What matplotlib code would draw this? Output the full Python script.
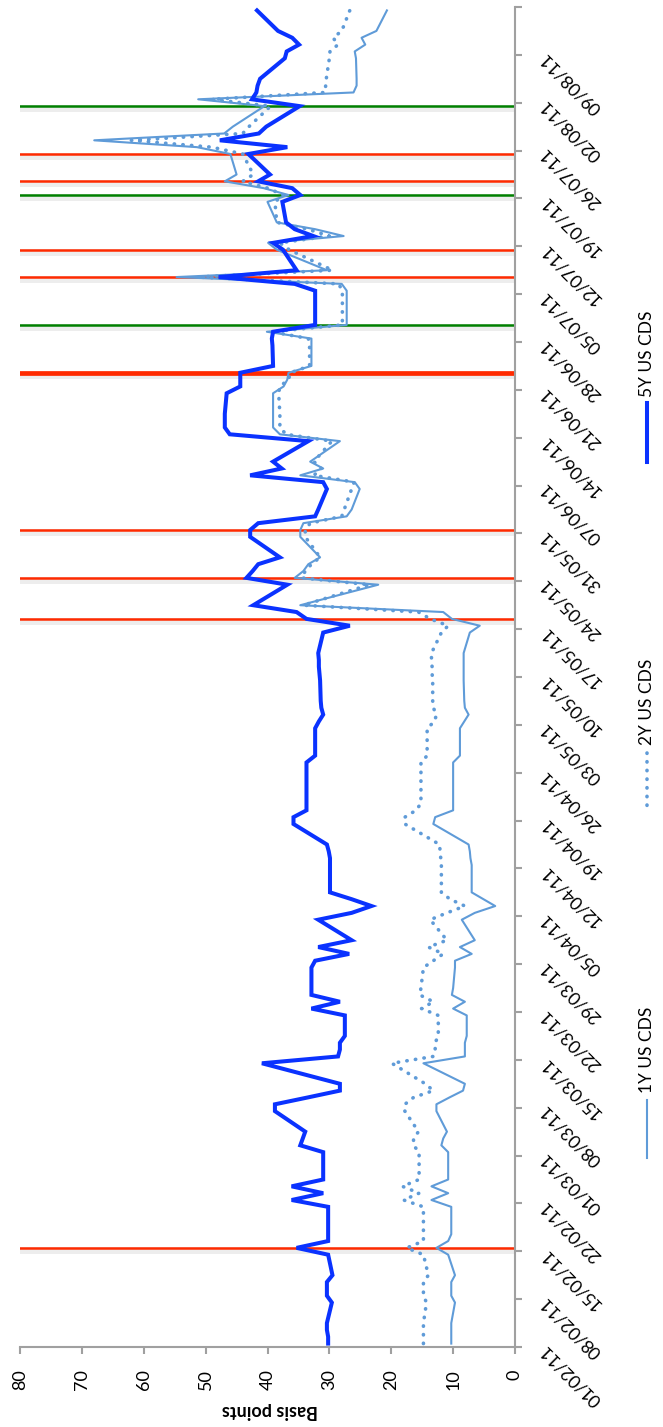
import matplotlib
matplotlib.use("Agg")
import matplotlib.pyplot as plt
import matplotlib.patheffects as pe
from matplotlib.lines import Line2D
import pandas as pd

plt.rcParams['font.family'] = ['Lato', 'DejaVu Sans']

# business days 01/02/11 .. 15/08/11, five per row (Tue..Mon)
dates = pd.bdate_range('2011-02-01', '2011-08-15')

cds_5y = [
    30.2, 30.2, 30.4, 30.4, 29.6,
    30.4, 30.4, 30.4, 29.5, 30.2,
    35.3, 30.2, 30.2, 30.2, 30.2,
    36.1, 31.0, 36.1, 31.0, 31.0,
    31.0, 34.7, 34.3, 33.9, 38.8,
    38.8, 33.5, 28.3, 28.3, 40.9,
    28.6, 28.3, 28.3, 27.5, 27.5,
    32.9, 28.3, 32.9, 32.9, 32.9,
    32.3, 26.8, 31.8, 26.4, 31.8,
    26.4, 23.2, 26.4, 29.9, 29.9,
    29.9, 29.9, 30.1, 30.4, 35.8,
    35.8, 33.7, 33.7, 33.7, 33.7,
    33.7, 33.7, 32.3, 32.3, 32.3,
    31.7, 31.0, 31.3, 31.4, 31.5,
    31.6, 31.7, 31.7, 31.8, 31.0,
    26.7, 33.7, 35.3, 42.3, 36.8,
    43.4, 42.4, 41.5, 38.0, 42.8,
    42.8, 41.5, 32.3, 31.8, 30.4,
    31.0, 42.8, 37.7, 39.1, 33.4,
    46.1, 46.9, 46.9, 46.9, 46.6,
    44.4, 44.4, 44.4, 39.1, 39.2,
    39.3, 39.1, 32.3, 32.3, 32.3,
    32.3, 35.6, 47.9, 35.3, 37.5,
    39.1, 32.6, 35.6, 37.0, 37.6,
    34.7, 36.0, 41.5, 39.6, 43.1,
    36.8, 47.7, 41.4, 40.2, 34.8,
    42.5, 41.8, 41.6, 41.2, 37.2,
    36.9, 34.9, 36.0, 38.3, 41.7,
]

cds_2y = [
    14.8, 14.8, 14.8, 14.8, 14.3,
    14.8, 14.8, 14.8, 14.0, 14.8,
    17.5, 14.8, 14.8, 14.8, 14.8,
    18.0, 15.5, 18.2, 15.5, 15.5,
    15.5, 16.4, 16.4, 15.6, 17.8,
    17.8, 16.4, 13.2, 14.5, 19.9,
    13.2, 12.9, 12.9, 12.4, 12.4,
    15.1, 13.2, 15.4, 15.2, 14.8,
    13.2, 11.6, 14.0, 11.0, 13.7,
    11.0, 8.1, 10.5, 11.9, 11.9,
    11.9, 12.0, 12.1, 12.2, 17.8,
    17.8, 16.0, 15.2, 15.2, 15.2,
    15.2, 15.2, 14.2, 14.2, 14.2,
    13.0, 12.7, 13.2, 13.3, 13.3,
    13.4, 13.4, 13.5, 13.5, 11.9,
    10.8, 13.7, 15.6, 34.2, 23.5,
    34.5, 33.9, 32.9, 31.5, 33.9,
    33.9, 33.1, 28.0, 27.6, 26.4,
    26.0, 32.5, 31.3, 32.5, 29.6,
    37.0, 38.0, 38.0, 38.0, 38.2,
    38.0, 36.6, 36.3, 33.2, 33.2,
    33.4, 39.3, 27.9, 27.9, 27.9,
    27.9, 28.5, 51.4, 29.5, 36.5,
    38.0, 30.0, 33.5, 38.5, 38.8,
    37.4, 40.0, 44.0, 42.3, 44.0,
    49.0, 62.0, 44.0, 43.0, 39.5,
    49.0, 30.7, 30.6, 30.5, 30.0,
    29.9, 28.6, 29.4, 28.0, 26.7,
]

cds_1y = [
    10.3, 10.3, 10.3, 10.3, 9.7,
    10.3, 10.3, 10.3, 9.7, 10.8,
    12.7, 10.8, 10.3, 10.3, 10.3,
    13.5, 10.8, 13.5, 10.8, 10.8,
    10.8, 11.9, 11.6, 11.0, 12.7,
    12.7, 10.6, 8.4, 8.1, 14.8,
    8.1, 8.1, 8.1, 7.8, 7.8,
    10.0, 8.1, 10.2, 10.0, 9.7,
    9.7, 7.0, 8.9, 6.5, 8.6,
    6.5, 3.2, 5.1, 7.0, 7.0,
    7.0, 7.2, 7.3, 7.5, 13.2,
    12.9, 10.0, 10.0, 10.0, 10.0,
    10.0, 10.0, 8.9, 8.9, 8.9,
    8.2, 7.5, 8.1, 8.2, 8.3,
    8.3, 8.3, 8.3, 8.3, 7.3,
    5.7, 10.2, 11.6, 34.7, 22.1,
    35.6, 34.2, 33.4, 31.5, 34.7,
    34.7, 34.2, 27.2, 26.4, 25.1,
    25.9, 34.7, 31.0, 33.1, 28.3,
    38.0, 39.1, 39.1, 39.1, 39.1,
    37.4, 36.8, 36.6, 32.9, 32.9,
    32.9, 40.1, 27.2, 27.2, 27.2,
    27.2, 28.0, 54.7, 30.4, 38.5,
    39.9, 27.7, 32.3, 38.5, 40.0,
    36.6, 40.6, 46.9, 45.0, 46.0,
    51.4, 68.0, 47.0, 45.6, 40.5,
    51.2, 26.1, 25.6, 25.6, 25.7,
    25.9, 24.2, 24.8, 22.4, 20.7,
]

red_events = ['2011-02-15', '2011-05-18', '2011-05-24', '2011-05-31',
              '2011-07-07', '2011-07-11', '2011-07-21', '2011-07-25']
thick_red_events = ['2011-06-23']
green_events = ['2011-06-30', '2011-07-19', '2011-08-01']

start = pd.Timestamp('2011-02-01')
tick_dates = pd.date_range('2011-02-01', '2011-08-16', freq='7D')
tick_labels = [d.strftime('%d/%m/%y') for d in tick_dates[:-1]] + ['']


def pos(d):
    # centre of the day on the date axis
    return (pd.Timestamp(d) - start).days + 0.5


W, H = 663, 1427
fig = plt.figure(figsize=(W / 100, H / 100), dpi=100)
ax = fig.add_axes([20 / W, 1 - 1347 / H, 495 / W, 1340 / H])

ys = [pos(d) for d in dates]

shadow = [pe.Stroke(linewidth=5, foreground='black', alpha=0.07, offset=(0, -1.5)), pe.Normal()]
for d in red_events:
    ax.axhline(pos(d), color='#FF2A00', lw=1.8, zorder=1, path_effects=shadow)
for d in thick_red_events:
    ax.axhline(pos(d), color='#FF2A00', lw=3.4, zorder=1, path_effects=shadow)
for d in green_events:
    ax.axhline(pos(d), color='#008000', lw=1.8, zorder=1, path_effects=shadow)

light = '#5F9BD8'
ax.plot(cds_1y, ys, color=light, lw=1.5, zorder=3)
ax.plot(cds_2y, ys, color=light, lw=2.6, linestyle=(0, (0.1, 2.3)),
        dash_capstyle='round', zorder=3)
ax.plot(cds_5y, ys, color='#0A32FF', lw=2.9, solid_joinstyle='miter', zorder=4)

ax.set_xlim(80, 0)
ax.set_ylim(0, 196)

for s in ['top', 'left']:
    ax.spines[s].set_visible(False)
for s in ['bottom', 'right']:
    ax.spines[s].set_color('#A0A0A0')
    ax.spines[s].set_linewidth(1.5)

ax.set_xticks(range(0, 81, 10))
ax.tick_params(axis='x', direction='out', length=5, width=1.5, color='#A0A0A0',
               pad=11, labelsize=13, labelrotation=90)

ax.yaxis.tick_right()
ax.set_yticks([(d - start).days for d in tick_dates])
ax.set_yticklabels(tick_labels)
ax.tick_params(axis='y', direction='out', length=5, width=1.5, color='#A0A0A0',
               pad=15, labelsize=13)
for lab in ax.get_yticklabels():
    lab.set_rotation(135)
    lab.set_rotation_mode('anchor')
    lab.set_ha('right')
    lab.set_va('center')

fig.text(270 / W, 1 - 1411 / H, 'Basis points', rotation=180, ha='center',
         va='center', fontsize=13, fontweight='bold')

# legend, drawn by hand (it stands rotated on the right)
lx = 646.5 / W
entries = [
    ('5Y US CDS', 397, 403, 462, dict(color='#0A32FF', lw=2.9)),
    ('2Y US CDS', 745, 753, 810, dict(color=light, lw=2.6, linestyle=(0, (0.1, 2.3)),
                                       dash_capstyle='round')),
    ('1Y US CDS', 1093, 1100, 1158, dict(color=light, lw=1.5)),
]
for name, text_bottom, l0, l1, style in entries:
    fig.text(lx, 1 - text_bottom / H, name, rotation=90, ha='center', va='bottom',
             fontsize=12.5)
    fig.add_artist(Line2D([lx, lx], [1 - l0 / H, 1 - l1 / H],
                          transform=fig.transFigure, **style))

fig.savefig('out.png', dpi=100)
